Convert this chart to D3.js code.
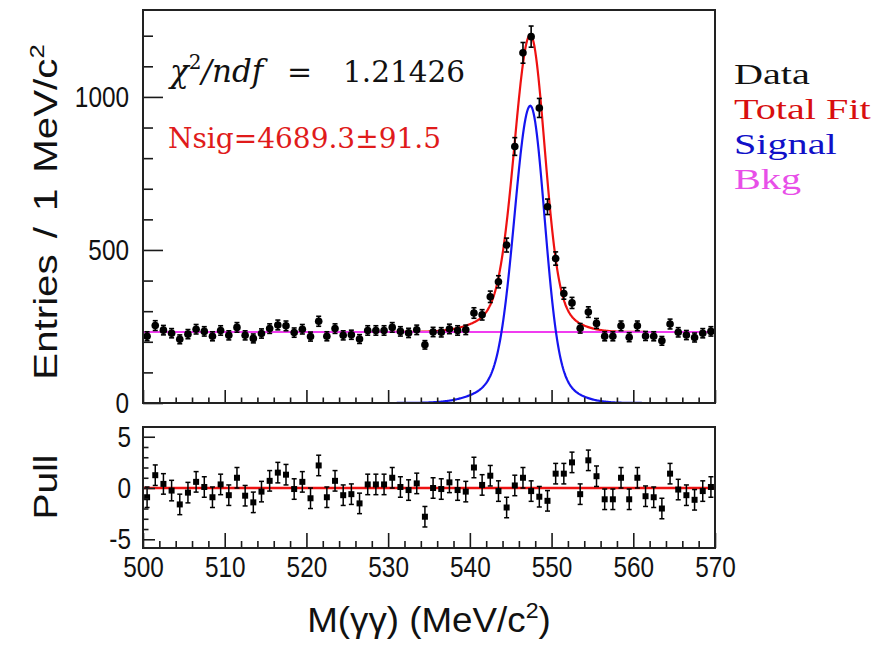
<!DOCTYPE html>
<html><head><meta charset="utf-8">
<script src="https://cdn.jsdelivr.net/npm/d3@7"></script>
<style>
body{margin:0;background:#fff;}
svg{display:block}
</style></head>
<body><svg id="c" width="879" height="651"></svg>
<script>
// ---------------- DATA ----------------
const massBinCenters = d3.range(500.5, 570, 1); // 1 MeV bins, 500-570
const entries = [218,253,238,228,208,225,241,234,218,237,
                 221,247,221,211,227,243,255,252,230,241,
                 217,267,218,243,221,223,209,237,237,237,
                 247,234,229,239,190,232,231,242,237,239,
                 294,288,347,396,516,838,1144,1197,964,641,
                 472,358,327,244,297,260,218,218,252,215,
                 252,219,218,203,258,231,222,214,228,234];
const pulls = [-0.9,1.25,0.4,-0.25,-1.6,-0.45,0.6,0.1,-0.9,0.35,
               -0.7,1.0,-0.75,-1.4,-0.35,0.7,1.5,1.3,-0.1,0.6,
               -1.0,2.2,-0.9,0.7,-0.7,-0.6,-1.5,0.35,0.35,0.35,
               1.0,0.1,-0.2,0.45,-2.8,0.0,-0.1,0.55,-0.2,-0.35,
               2.0,0.3,1.2,-0.3,-1.9,0.25,1.0,-0.3,-0.85,-1.25,
               1.4,1.4,2.5,-0.6,2.7,1.15,-1.1,-1.1,1.0,-1.1,
               1.0,-0.8,-0.9,-2.0,1.4,-0.15,-0.7,-1.15,-0.3,0.1];
const xTickValues = [500,510,520,530,540,550,560,570];
const yTickValuesMain = [0,500,1000];
const yTickValuesPull = [-5,0,5];
const legendLabels = ["Data","Total Fit","Signal","Bkg"];
const chi2Value = "1.21426";
const nsigText = "Nsig=4689.3\u00B191.5";
// fit result parameters
const bkgLevel = 232;
const sigMean = 547.4;
const coreAmp = 861, coreSigmaL = 1.9, coreSigmaR = 1.7;
const tailAmp = 110, tailSigmaL = 4.3, tailSigmaR = 3.6;

// ---------------- LAYOUT ----------------
const svg = d3.select("#c");
const L = 143, R = 715, mT = 10, mB = 403, pT = 427, pB = 548;
const x = d3.scaleLinear().domain([500, 570]).range([L, R]);
const yM = d3.scaleLinear().domain([0, 1284]).range([mB, mT]);
const yP = d3.scaleLinear().domain([-5.85, 5.95]).range([pB, pT]);

const colRed = "#ee1111", colBlue = "#1515f0", colMag = "#f03cf0";

function agauss(m, amp, sL, sR) {
  const s = m < sigMean ? sL : sR;
  return amp * Math.exp(-0.5 * Math.pow((m - sigMean) / s, 2));
}
const sigFn = m => agauss(m, coreAmp, coreSigmaL, coreSigmaR) + agauss(m, tailAmp, tailSigmaL, tailSigmaR);
const totFn = m => bkgLevel + sigFn(m);

// clip paths
const defs = svg.append("defs");
defs.append("clipPath").attr("id","clipM").append("rect")
  .attr("x",L).attr("y",mT).attr("width",R-L).attr("height",mB-mT);
defs.append("clipPath").attr("id","clipP").append("rect")
  .attr("x",L).attr("y",pT).attr("width",R-L).attr("height",pB-pT);

// ---------- MAIN PANEL ----------
const gM = svg.append("g");
const fineX = d3.range(500, 570.0001, 0.1);
const line = d3.line().x(d => x(d[0])).y(d => yM(d[1]));
const curves = gM.append("g").attr("clip-path","url(#clipM)");
curves.append("path").datum(fineX.map(m => [m, totFn(m)]))
  .attr("d", line).attr("fill","none").attr("stroke",colRed).attr("stroke-width",2.2);
curves.append("path").datum([[500,bkgLevel],[570,bkgLevel]])
  .attr("d", line).attr("fill","none").attr("stroke",colMag).attr("stroke-width",2.2);
curves.append("path").datum(fineX.map(m => [m, sigFn(m)]))
  .attr("d", line).attr("fill","none").attr("stroke",colBlue).attr("stroke-width",2.2);

// data points
const pts = gM.append("g");
massBinCenters.forEach((m, i) => {
  const v = entries[i], e = Math.sqrt(v);
  const cx = x(m);
  pts.append("line").attr("x1",cx).attr("x2",cx).attr("y1",yM(v+e)).attr("y2",yM(v-e))
     .attr("stroke","#000").attr("stroke-width",1.6);
  [v+e, v-e].forEach(t => pts.append("line").attr("x1",cx-2.5).attr("x2",cx+2.5)
     .attr("y1",yM(t)).attr("y2",yM(t)).attr("stroke","#000").attr("stroke-width",1.6));
  pts.append("circle").attr("cx",cx).attr("cy",yM(v)).attr("r",3.8).attr("fill","#000");
});

// axes
const tickStyle = g => { g.select(".domain").remove();
  g.selectAll(".tick line").attr("stroke","#1a1a1a").attr("stroke-width",1.6); };
const labStyle = g => g.selectAll("text")
  .attr("font-family","'Liberation Sans',Arial,sans-serif")
  .attr("font-size",29).attr("fill","#111")
  .each(function() {
    const t = d3.select(this), tx = +(t.attr("x") || 0);
    t.attr("x", 0).attr("transform", `translate(${tx},0) scale(0.84,1)`);
  });

gM.append("g").attr("transform",`translate(${L},0)`)
  .call(d3.axisLeft(yM).tickValues(d3.range(0,1284,100).filter(v=>!yTickValuesMain.includes(v)))
    .tickSize(-10).tickFormat(""))
  .call(tickStyle);
gM.append("g").attr("transform",`translate(${L},0)`)
  .call(d3.axisLeft(yM).tickValues(yTickValuesMain).tickSizeInner(-20).tickSizeOuter(0).tickPadding(14)
    .tickFormat(d3.format("d")))
  .call(tickStyle).call(labStyle);
gM.append("g").attr("transform",`translate(0,${mB})`)
  .call(d3.axisBottom(x).tickValues(d3.range(502,570,2).filter(v=>!xTickValues.includes(v))).tickSize(-5.5).tickFormat(""))
  .call(tickStyle);
gM.append("g").attr("transform",`translate(0,${mB})`)
  .call(d3.axisBottom(x).tickValues(xTickValues).tickSize(-13).tickFormat(""))
  .call(tickStyle);
gM.append("rect").attr("x",L).attr("y",mT).attr("width",R-L).attr("height",mB-mT)
  .attr("fill","none").attr("stroke","#222").attr("stroke-width",2);

// ---------- PULL PANEL ----------
const gP = svg.append("g");
gP.append("g").attr("clip-path","url(#clipP)").append("line")
  .attr("x1",x(500)).attr("x2",x(570)).attr("y1",yP(0)).attr("y2",yP(0))
  .attr("stroke",colRed).attr("stroke-width",2.4);
massBinCenters.forEach((m, i) => {
  const v = pulls[i], cx = x(m);
  gP.append("line").attr("x1",cx).attr("x2",cx).attr("y1",yP(v+1)).attr("y2",yP(v-1))
    .attr("stroke","#000").attr("stroke-width",1.5);
  [v+1, v-1].forEach(t => gP.append("line").attr("x1",cx-2.5).attr("x2",cx+2.5)
    .attr("y1",yP(t)).attr("y2",yP(t)).attr("stroke","#000").attr("stroke-width",1.5));
  gP.append("rect").attr("x",cx-3).attr("y",yP(v)-3).attr("width",6).attr("height",6).attr("fill","#000");
});
gP.append("g").attr("transform",`translate(${L},0)`)
  .call(d3.axisLeft(yP).tickValues(d3.range(-5,6,1).filter(v=>!yTickValuesPull.includes(v))).tickSize(-5.5).tickFormat(""))
  .call(tickStyle);
gP.append("g").attr("transform",`translate(${L},0)`)
  .call(d3.axisLeft(yP).tickValues(yTickValuesPull).tickSizeInner(-12).tickSizeOuter(0).tickPadding(12)
    .tickFormat(d => d < 0 ? "-" + Math.abs(d) : String(d)))
  .call(tickStyle).call(labStyle);
gP.append("g").attr("transform",`translate(0,${pB})`)
  .call(d3.axisBottom(x).tickValues(d3.range(502,570,2).filter(v=>!xTickValues.includes(v))).tickSize(-7).tickFormat(""))
  .call(tickStyle);
gP.append("g").attr("transform",`translate(0,${pB})`)
  .call(d3.axisBottom(x).tickValues(xTickValues).tickSizeInner(-15).tickSizeOuter(0).tickPadding(8))
  .call(tickStyle).call(labStyle);
gP.append("rect").attr("x",L).attr("y",pT).attr("width",R-L).attr("height",pB-pT)
  .attr("fill","none").attr("stroke","#222").attr("stroke-width",2);

// ---------- TITLES ----------
const sans = "'Liberation Sans',Arial,sans-serif";
const yt = svg.append("text").attr("transform","translate(57,212) rotate(-90) scale(1.22,1)")
  .attr("text-anchor","middle").attr("font-family",sans).attr("font-size",33)
  .attr("word-spacing",4).attr("fill","#111");
yt.append("tspan").text("Entries / 1 MeV/c");
yt.append("tspan").attr("dy",-13).attr("font-size",21).text("2");

svg.append("text").attr("transform","translate(57,487) rotate(-90) scale(1.18,1)")
  .attr("text-anchor","middle").attr("font-family",sans).attr("font-size",33).attr("fill","#111").text("Pull");

const xt = svg.append("text").attr("transform","translate(429,632) scale(1.05,1)").attr("text-anchor","middle")
  .attr("font-family",sans).attr("font-size",35).attr("fill","#111");
xt.append("tspan").text("M(\u03B3\u03B3) (MeV/c");
xt.append("tspan").attr("dy",-14).attr("font-size",22).text("2");
xt.append("tspan").attr("dy",14).text(")");

// ---------- ANNOTATIONS ----------
const serif = "'DejaVu Serif',serif";
const ct = svg.append("text").attr("y",82).attr("font-family",serif).attr("font-size",31).attr("fill","#111");
ct.append("tspan").attr("x",170).attr("font-style","italic").text("\u03C7");
ct.append("tspan").attr("dy",-13).attr("font-size",20).text("2");
ct.append("tspan").attr("dy",13).attr("font-style","italic").text("/ndf");
ct.append("tspan").attr("x",287).attr("font-size",30).text("=");
ct.append("tspan").attr("x",343).attr("font-size",29.5).text(chi2Value);

svg.append("text").attr("x",168).attr("y",148).attr("font-family",serif).attr("font-size",28)
  .attr("fill","#e01b1b").text(nsigText);

const legendColors = ["#111111","#d80f0f","#1010c8","#e84fe8"];
legendLabels.forEach((t, i) => {
  svg.append("text").attr("transform",`translate(734,${84 + i*35}) scale(1.34,1)`)
    .attr("font-family","'Liberation Serif','Times New Roman',serif").attr("font-size",30)
    .attr("fill",legendColors[i]).text(t);
});
</script>
</body></html>
